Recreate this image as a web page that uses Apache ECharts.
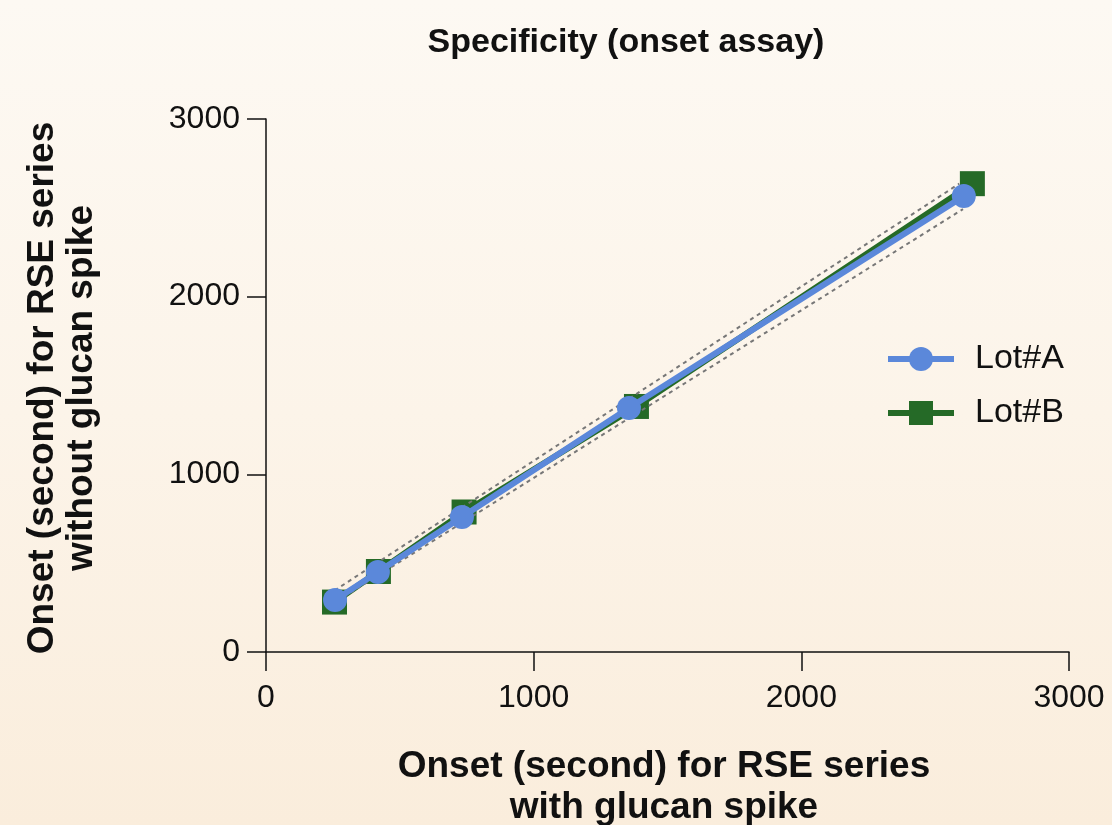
<!DOCTYPE html>
<html>
<head>
<meta charset="utf-8">
<script src="https://cdn.jsdelivr.net/npm/echarts@6/dist/echarts.min.js"></script>
<style>
  html, body { margin: 0; padding: 0; }
  body { width: 1112px; height: 825px; background: linear-gradient(to bottom, #FDF9F3 0%, #FCF4E9 50%, #FAEDDC 100%); }
  #chart { width: 1112px; height: 825px; }
</style>
</head>
<body>
<div id="chart"></div>
<script>
// ---- data ----
const chartTitle = 'Specificity (onset assay)';
const xTitle = 'Onset (second) for RSE series\nwith glucan spike';
const yTitle = 'Onset (second) for RSE series\nwithout glucan spike';
const seriesNames = ['Lot#A', 'Lot#B'];
const lotA = [[258, 293], [418, 450], [732, 760], [1356, 1373], [2607, 2566]];
const lotB = [[256, 281], [420, 453], [740, 788], [1384, 1382], [2639, 2636]];
const bandUpper = [[256, 346], [2590, 2636]];
const bandLower = [[290, 310], [2604, 2493]];
const axisMin = 0, axisMax = 3000, axisStep = 1000;

const font = 'Liberation Sans, Arial, Helvetica, sans-serif';
const blue = '#5B88DA';
const green = '#256A27';

const chart = echarts.init(document.getElementById('chart'), null, { renderer: 'canvas' });
const axisCommon = {
  type: 'value', min: axisMin, max: axisMax, interval: axisStep,
  splitLine: { show: false },
  axisLine: { show: true, lineStyle: { color: '#111', width: 1.5 } },
  axisTick: { show: true, inside: false, length: 19, lineStyle: { color: '#111', width: 1.5 } },
  axisLabel: { color: '#111', fontSize: 32, fontFamily: font, formatter: function (v) { return String(v); } }
};
chart.setOption({
  backgroundColor: 'transparent',
  animation: false,
  title: {
    text: chartTitle, left: 621, top: 21, textAlign: 'center',
    textStyle: { fontFamily: font, fontWeight: 'bold', fontSize: 34, color: '#111' }
  },
  grid: { left: 266, right: 43, top: 119, bottom: 173, containLabel: false },
  xAxis: Object.assign({}, axisCommon, { axisLabel: Object.assign({}, axisCommon.axisLabel, { margin: 30 }) }),
  yAxis: Object.assign({}, axisCommon, { axisLabel: Object.assign({}, axisCommon.axisLabel, { margin: 26 }) }),
  legend: {
    data: seriesNames,
    orient: 'vertical', left: 885, top: 342, padding: 0,
    itemWidth: 66, itemHeight: 30, itemGap: 20,
    lineStyle: { width: 6 },
    textStyle: { fontFamily: font, fontSize: 34, color: '#111', padding: [0, 0, 0, 16] }
  },
  graphic: [
    {
      type: 'text', x: 62, y: 388, rotation: Math.PI / 2,
      style: { text: yTitle, align: 'center', verticalAlign: 'middle', fontFamily: font, fontWeight: 'bold', fontSize: 37, lineHeight: 39, fill: '#111' }
    },
    {
      type: 'text', x: 664, y: 787,
      style: { text: xTitle, align: 'center', verticalAlign: 'middle', fontFamily: font, fontWeight: 'bold', fontSize: 37, lineHeight: 41, fill: '#111' }
    }
  ],
  series: [
    {
      name: seriesNames[1], type: 'line', data: lotB,
      symbol: 'rect', symbolSize: 25,
      lineStyle: { color: green, width: 6 }, itemStyle: { color: green },
      z: 2
    },
    {
      name: 'upper', type: 'line', data: bandUpper, symbol: 'none',
      lineStyle: { color: '#777', width: 2, type: [4, 4] }, z: 3, silent: true
    },
    {
      name: 'lower', type: 'line', data: bandLower, symbol: 'none',
      lineStyle: { color: '#777', width: 2, type: [4, 4] }, z: 3, silent: true
    },
    {
      name: seriesNames[0], type: 'line', data: lotA,
      symbol: 'circle', symbolSize: 24,
      lineStyle: { color: blue, width: 6 }, itemStyle: { color: blue },
      z: 4
    }
  ]
});
</script>
</body>
</html>
